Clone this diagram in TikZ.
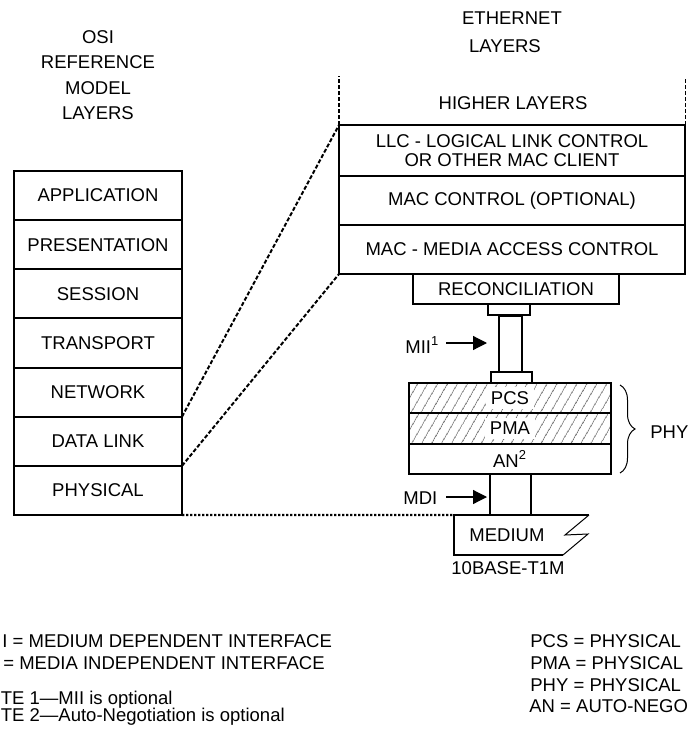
\documentclass[tikz,border=0pt]{standalone}
\usepackage{fontspec}
\setmainfont{Liberation Sans}
\usetikzlibrary{arrows.meta,decorations.pathreplacing,patterns.meta}
\begin{document}
\begin{tikzpicture}[x=0.5pt,y=-0.5pt,
  lbl/.style={font=\fontsize{9.25pt}{11pt}\selectfont, inner sep=0},
  note/.style={lbl, anchor=west},
  thick box/.style={draw, line width=1pt, inner sep=0, outer sep=0, lbl},
  osibox/.style={thick box, minimum width=84pt, minimum height=24.57pt},
  ethbox/.style={thick box, minimum width=173pt},
  phybox/.style={thick box, minimum width=101pt},
  hatch/.style={pattern={Lines[angle=60,distance=4pt,line width=0.4pt]}, pattern color=black!55},
  whitelbl/.style={lbl, fill=white, inner xsep=2.5pt, inner ysep=2pt},
  dashline/.style={line width=1pt, dash pattern=on 2pt off 1pt},
  thindash/.style={line width=0.5pt, dash pattern=on 2pt off 1pt},
  dotline/.style={line width=1.2pt, dash pattern=on 1.2pt off 0.8pt},
  arr/.style={line width=0.6pt, -{Triangle[length=7pt,width=7pt]}},
  wire/.style={line width=1pt}
]
\clip (0,0) rectangle (687,733);

% headings
\node[lbl, align=center, font=\fontsize{9.25pt}{12.75pt}\selectfont] (osihead) at (98,75) {OSI\\REFERENCE\\MODEL\\LAYERS};
\node[lbl] (ethhead1) at (512,18) {ETHERNET};
\node[lbl] (ethhead2) at (505,46) {LAYERS};

% OSI stack
\node[osibox, anchor=north west] (app) at (14,171) {APPLICATION};
\node[osibox, anchor=north] (pres) at (app.south) {PRESENTATION};
\node[osibox, anchor=north] (sess) at (pres.south) {SESSION};
\node[osibox, anchor=north] (trans) at (sess.south) {TRANSPORT};
\node[osibox, anchor=north] (net) at (trans.south) {NETWORK};
\node[osibox, anchor=north] (dl) at (net.south) {DATA LINK};
\node[osibox, anchor=north] (phys) at (dl.south) {PHYSICAL};

% Ethernet stack
\node[lbl] (higher) at (513,103) {HIGHER LAYERS};
\node[ethbox, anchor=north west, minimum height=25.5pt, align=center,
      font=\fontsize{9.25pt}{9.6pt}\selectfont] (llc) at (339,125)
      {LLC - LOGICAL LINK CONTROL\\OR OTHER MAC CLIENT};
\node[ethbox, anchor=north, minimum height=24.5pt] (macc) at (llc.south) {MAC CONTROL (OPTIONAL)};
\node[ethbox, anchor=north, minimum height=24.5pt] (mac) at (macc.south) {MAC - MEDIA ACCESS CONTROL};
\node[thick box, anchor=north west, minimum width=103pt, minimum height=15pt] (rec) at (413,274) {RECONCILIATION};

% MII connector
\node[thick box, anchor=north, minimum width=21pt, minimum height=5.5pt] (miitop) at (509,304) {};
\node[thick box, anchor=north, minimum width=11.5pt, minimum height=28pt] (miibar) at (510.5,316) {};
\node[thick box, anchor=north, minimum width=20.5pt, minimum height=5.5pt] (miibot) at (511.5,372) {};

% PHY stack
\node[phybox, hatch, anchor=north west, minimum height=15pt,
      label={[whitelbl]center:PCS}] (pcs) at (409,383) {};
\node[phybox, hatch, anchor=north, minimum height=15.5pt,
      label={[whitelbl]center:PMA}] (pma) at (pcs.south) {};
\node[phybox, anchor=north, minimum height=15pt] (an) at (pma.south) {AN\textsuperscript{2}};

% brace and PHY
\coordinate (brT) at (620,385);
\coordinate (brB) at (620,473);
\draw[decorate, decoration={brace, amplitude=7.5pt}, line width=0.5pt] (brT) -- (brB);
\node[lbl, anchor=west] (phy) at (650,432) {PHY};

% interface labels and arrows
\node[lbl, anchor=west] (mii) at (405,345) {MII\textsuperscript{1}};
\coordinate (miiA) at (446,343);
\coordinate (miiB) at (487,343);
\draw[arr] (miiA) -- (miiB);
\node[lbl, anchor=west] (mdi) at (403,498) {MDI};
\coordinate (mdiA) at (446,497);
\coordinate (mdiB) at (487,497);
\draw[arr] (mdiA) -- (mdiB);

% medium
\coordinate (medTL) at (454,515);
\coordinate (medTR) at (589,515);
\coordinate (medBR) at (563,555);
\coordinate (medBL) at (454,555);
\coordinate (cA) at (490,515);
\coordinate (cB) at (531,515);
\draw[wire] (an.south -| cA) -- (cA);
\draw[wire] (an.south -| cB) -- (cB);
\draw[wire, line join=miter] (medTR) -- (medTL) -- (medBL) -- (medBR);
\draw[line width=0.5pt] (medTR) -- (565,535) -- (588,534) -- (medBR);
\node[lbl] (medium) at (507,535) {MEDIUM};
\node[lbl] (t1m) at (508,568) {10BASE-T1M};

% mapping lines
\coordinate (hlL) at (339,76);
\coordinate (hlR) at (685,78);
\draw[dashline] (llc.north west) -- (hlL);
\draw[thindash] (llc.north east) -- (hlR);
\draw[dashline] (net.south east) -- (llc.north west);
\draw[dashline] (dl.south east) -- (mac.south west);
\draw[dotline] (phys.south east) -- (medTL);

% notes
\node[note] (n1) at (2,641) {I = MEDIUM DEPENDENT INTERFACE};
\node[note] (n2) at (3,663) {= MEDIA INDEPENDENT INTERFACE};
\node[note] (n3) at (0.5,700) {TE 1—MII is optional};
\node[note] (n4) at (0.5,717) {TE 2—Auto-Negotiation is optional};
\node[note] (n5) at (530,641) {PCS = PHYSICAL};
\node[note] (n6) at (530,663) {PMA = PHYSICAL};
\node[note] (n7) at (530,685) {PHY = PHYSICAL};
\node[note] (n8) at (529,706) {AN = AUTO-NEGO};
\end{tikzpicture}
\end{document}
